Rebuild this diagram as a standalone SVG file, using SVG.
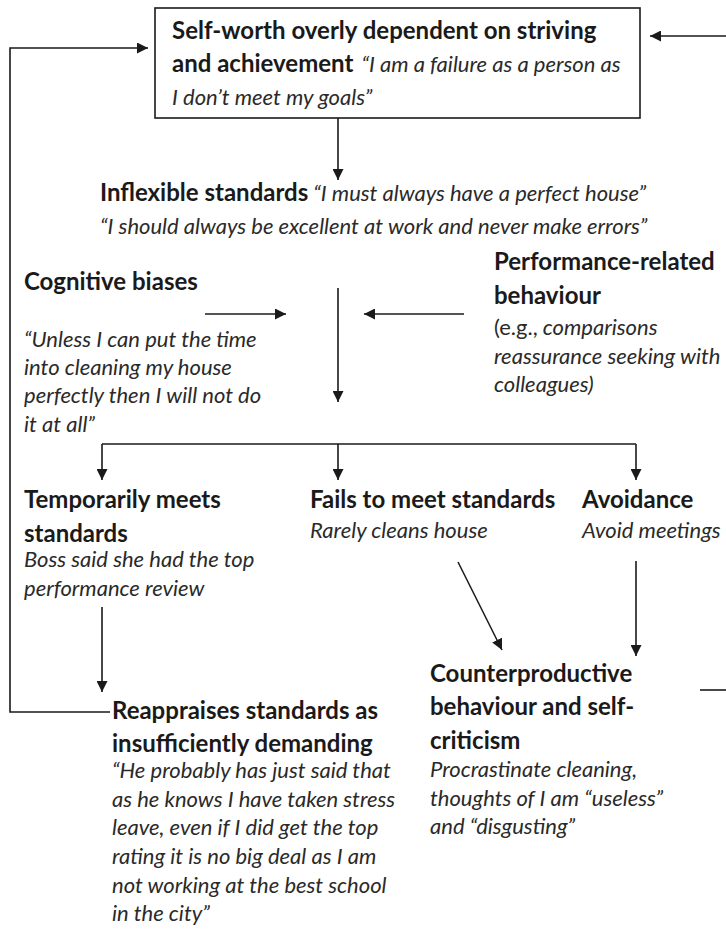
<svg xmlns="http://www.w3.org/2000/svg" width="726" height="937" viewBox="0 0 726 937">
  <defs>
    <marker id="arr" viewBox="0 0 10 10" refX="10" refY="5" markerWidth="11" markerHeight="11" markerUnits="userSpaceOnUse" orient="auto">
      <path d="M0,0 L10,5 L0,10 z" fill="#1a1a1a"/>
    </marker>
    <style>
      text { font-family: Lato, "Open Sans", "Liberation Sans", sans-serif; fill: #1a1a1a; }
      .b { font-weight: bold; font-size: 24px; }
      .i { font-style: italic; font-size: 22px; fill: #2a2a2a; }
      .n { font-style: normal; }
      .ln { stroke: #1a1a1a; stroke-width: 1.6; fill: none; }
      .box { fill: #ffffff; stroke: #1a1a1a; stroke-width: 1.6; }
    </style>
  </defs>
  <rect width="726" height="937" fill="#ffffff"/>

  <g id="connectors">
    <!-- feedback loop on the left -->
    <path class="ln" d="M110,712 H10 V48 H148" marker-end="url(#arr)"/>
    <!-- feedback from the right edge -->
    <path class="ln" d="M726,36 H650" marker-end="url(#arr)"/>
    <path class="ln" d="M700,690 H726"/>
    <!-- main flow -->
    <path class="ln" d="M338,118 V180" marker-end="url(#arr)"/>
    <path class="ln" d="M205,314 H286" marker-end="url(#arr)"/>
    <path class="ln" d="M464,314 H364" marker-end="url(#arr)"/>
    <path class="ln" d="M338,288 V402" marker-end="url(#arr)"/>
    <path class="ln" d="M102,444 H636"/>
    <path class="ln" d="M102,444 V480" marker-end="url(#arr)"/>
    <path class="ln" d="M338,444 V480" marker-end="url(#arr)"/>
    <path class="ln" d="M636,444 V480" marker-end="url(#arr)"/>
    <path class="ln" d="M102,607 V692" marker-end="url(#arr)"/>
    <path class="ln" d="M458,562 L502,650" marker-end="url(#arr)"/>
    <path class="ln" d="M636,561 V656" marker-end="url(#arr)"/>
  </g>

  <g id="self-worth">
    <rect class="box" x="155" y="8" width="485" height="110"/>
    <text x="172" y="39" class="b">Self-worth overly dependent on striving</text>
    <text x="172" y="72"><tspan class="b">and achievement</tspan><tspan class="i" dx="8">“I am a failure as a person as</tspan></text>
    <text x="172" y="105" class="i">I don’t meet my goals”</text>
  </g>

  <g id="inflexible-standards">
    <text x="100" y="201"><tspan class="b">Inflexible standards</tspan><tspan class="i" dx="5">“I must always have a perfect house”</tspan></text>
    <text x="100" y="234" class="i">“I should always be excellent at work and never make errors”</text>
  </g>

  <g id="cognitive-biases">
    <text x="24" y="290" class="b">Cognitive biases</text>
    <text x="24" y="347" class="i">“Unless I can put the time</text>
    <text x="24" y="375" class="i">into cleaning my house</text>
    <text x="24" y="403" class="i">perfectly then I will not do</text>
    <text x="24" y="432" class="i">it at all”</text>
  </g>

  <g id="performance-behaviour">
    <text x="494" y="270" class="b">Performance-related</text>
    <text x="494" y="304" class="b">behaviour</text>
    <text x="494" y="335" class="i"><tspan class="n">(e.g.,</tspan> comparisons</text>
    <text x="494" y="364" class="i">reassurance seeking with</text>
    <text x="494" y="392" class="i">colleagues)</text>
  </g>

  <g id="temporarily-meets">
    <text x="24" y="508" class="b">Temporarily meets</text>
    <text x="24" y="542" class="b">standards</text>
    <text x="24" y="567" class="i">Boss said she had the top</text>
    <text x="24" y="596" class="i">performance review</text>
  </g>

  <g id="fails-to-meet">
    <text x="310" y="508" class="b">Fails to meet standards</text>
    <text x="310" y="538" class="i">Rarely cleans house</text>
  </g>

  <g id="avoidance">
    <text x="582" y="508" class="b">Avoidance</text>
    <text x="582" y="538" class="i">Avoid meetings</text>
  </g>

  <g id="counterproductive">
    <text x="430" y="682" class="b">Counterproductive</text>
    <text x="430" y="715" class="b">behaviour and self-</text>
    <text x="430" y="749" class="b">criticism</text>
    <text x="430" y="777" class="i">Procrastinate cleaning,</text>
    <text x="430" y="806" class="i">thoughts of I am “useless”</text>
    <text x="430" y="834" class="i">and “disgusting”</text>
  </g>

  <g id="reappraises">
    <text x="112" y="719" class="b">Reappraises standards as</text>
    <text x="112" y="752" class="b">insufficiently demanding</text>
    <text x="112" y="778" class="i">“He probably has just said that</text>
    <text x="112" y="807" class="i">as he knows I have taken stress</text>
    <text x="112" y="835" class="i">leave, even if I did get the top</text>
    <text x="112" y="864" class="i">rating it is no big deal as I am</text>
    <text x="112" y="893" class="i">not working at the best school</text>
    <text x="112" y="921" class="i">in the city”</text>
  </g>
</svg>
